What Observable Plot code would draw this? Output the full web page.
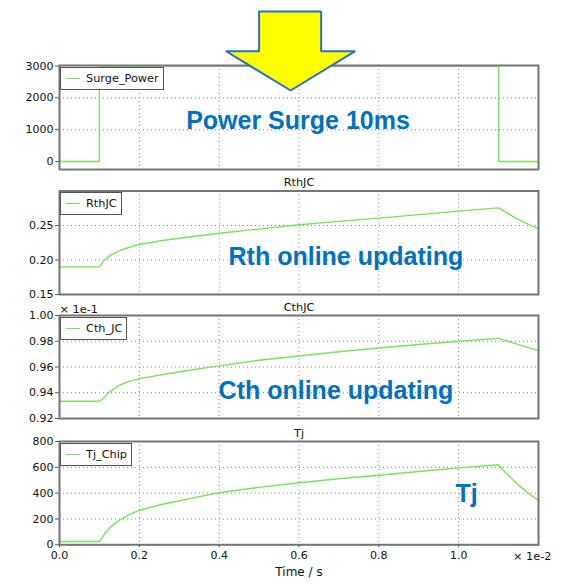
<!DOCTYPE html>
<html><head><meta charset="utf-8">
<script src="https://cdn.jsdelivr.net/npm/d3@7"></script>
<script src="https://cdn.jsdelivr.net/npm/@observablehq/plot@0.6"></script>
<style>
body{margin:0;background:#fff;}
#wrap{position:relative;width:577px;height:588px;overflow:hidden;font-family:"DejaVu Sans",sans-serif;}
.panel{position:absolute;left:0;}
.legend{position:absolute;left:60px;height:23px;border:1.5px solid #555;background:#fff;display:flex;align-items:center;padding:0 4px 0 5px;font:11.3px "DejaVu Sans",sans-serif;color:#111;box-sizing:border-box;}
.legend .sw{width:14px;height:0;border-top:1.4px solid #7ede5e;margin-right:6px;}
</style></head><body><div id="wrap"></div>
<script>
// ---- data (time in units of 1e-2 s) ----
const powerTime  = [0, 0.1, 1.1, 1.2];
const powerValue = [0, 3000, 0, 0];

const rthTime  = [0, 0.1, 0.11, 0.125, 0.15, 0.175, 0.2, 0.25, 0.3, 0.4, 0.5, 0.6, 0.7, 0.8, 0.9, 1.0, 1.1, 1.125, 1.15, 1.175, 1.2];
const rthValue = [0.19, 0.19, 0.1985, 0.206, 0.2135, 0.2185, 0.2225, 0.2275, 0.2315, 0.2388, 0.2448, 0.251, 0.256, 0.2607, 0.2658, 0.2709, 0.2755, 0.2668, 0.2585, 0.2515, 0.2452];

const cthTime  = [0, 0.1, 0.11, 0.125, 0.15, 0.175, 0.2, 0.3, 0.4, 0.5, 0.6, 0.7, 0.8, 0.9, 1.0, 1.1, 1.15, 1.2];
const cthValue = [0.9334, 0.9334, 0.9355, 0.9405, 0.9458, 0.949, 0.951, 0.9563, 0.9609, 0.9652, 0.9685, 0.9718, 0.9748, 0.9775, 0.98, 0.9822, 0.9774, 0.9727];

const tjTime  = [0, 0.1, 0.1125, 0.125, 0.1375, 0.15, 0.175, 0.2, 0.25, 0.3, 0.35, 0.4, 0.5, 0.6, 0.7, 0.8, 0.9, 1.0, 1.1, 1.11, 1.125, 1.15, 1.175, 1.2];
const tjValue = [25, 25, 80, 128, 162, 190, 235, 266, 308, 341, 373, 403, 445, 480, 511, 539, 568, 596, 620, 583, 535, 462, 398, 343];

const xTicks = [0, 0.2, 0.4, 0.6, 0.8, 1.0];
const powerTicks = [0, 1000, 2000, 3000];
const rthTicks = [0.15, 0.20, 0.25];
const cthTicks = [0.92, 0.94, 0.96, 0.98, 1.00];
const tjTicks = [0, 200, 400, 600, 800];

const panelTitles = ["", "RthJC", "CthJC", "Tj"];
const legendNames = ["Surge_Power", "RthJC", "Cth_JC", "Tj_Chip"];
const noteText = ["Power Surge 10ms", "Rth online updating", "Cth online updating", "Tj"];
const noteX = [0.5975, 0.7175, 0.6925, 1.02];
const noteY = [1030, 0.1931, 0.9353, 331];

// decorative arrow, in panel-1 data coordinates
const arrowX = [0.5, 0.6555, 0.6555, 0.741, 0.579, 0.417, 0.5, 0.5];
const arrowY = [4713, 4713, 3465, 3465, 2231, 3465, 3465, 4713];

const GREEN = "#7ede5e";
const BLUE = "#0070c0";
const W = 577, ML = 59, MR = 39;

const wrap = document.getElementById("wrap");

function panel(i, cfg) {
  const idx = d3.range(cfg.times.length);
  const marks = [
    Plot.gridX(xTicks.slice(1), {stroke: "#808080", strokeOpacity: 1, strokeDasharray: "1,3"}),
    Plot.gridY(cfg.grid, {stroke: "#808080", strokeOpacity: 1, strokeDasharray: "1,3"}),
    Plot.axisY(cfg.ticks, {tickSize: 4, tickPadding: 2, tickFormat: cfg.fmt, label: null, fill: "#111", stroke: "#555"}),
    Plot.line(idx, {x: j => cfg.times[j], y: j => cfg.values[j], stroke: GREEN, strokeWidth: 1.4, curve: cfg.curve || "linear"}),
    Plot.frame({stroke: "#757575", strokeWidth: 2}),
    Plot.text([noteText[i]], {x: noteX[i], y: noteY[i], text: d => d, fill: BLUE, fontSize: 25, fontWeight: "bold", fontFamily: "Liberation Sans, Arial, sans-serif", textAnchor: "middle", lineAnchor: "bottom"})
  ];
  if (panelTitles[i]) marks.push(Plot.text([panelTitles[i]], {frameAnchor: "top", dy: cfg.titleDy, text: d => d, fontSize: 11.3, fill: "#111", lineAnchor: "middle"}));
  if (cfg.extra) marks.push(...cfg.extra);
  const chart = Plot.plot({
    width: W, height: cfg.height,
    marginLeft: ML, marginRight: MR, marginTop: cfg.mt, marginBottom: cfg.mb,
    x: {domain: [0, 1.2], axis: null},
    y: {domain: cfg.domain, axis: null},
    style: {fontFamily: "DejaVu Sans, sans-serif", fontSize: "11px", color: "#111", background: "transparent", overflow: "visible"},
    marks
  });
  chart.classList.add("panel");
  chart.style.top = cfg.top + "px";
  wrap.appendChild(chart);
  const lg = document.createElement("div");
  lg.className = "legend";
  lg.style.top = (cfg.top + cfg.mt + 1.5) + "px";
  lg.innerHTML = `<span class="sw"></span><span>${legendNames[i]}</span>`;
  wrap.appendChild(lg);
}

panel(0, {top: 0, height: 173, mt: 65, mb: 4, domain: [-251, 3016], ticks: powerTicks, grid: [1000, 2000], fmt: d3.format("d"),
  times: powerTime, values: powerValue, curve: "step-after",
  extra: [Plot.line(d3.range(arrowX.length), {x: j => arrowX[j], y: j => arrowY[j], fill: "#ffff00", stroke: "#2a72c2", strokeWidth: 2, strokeLinejoin: "miter"})]
});

panel(1, {top: 173, height: 125, mt: 17.5, mb: 4, domain: [0.15, 0.3], ticks: rthTicks, grid: [0.20, 0.25], fmt: d3.format(".2f"),
  times: rthTime, values: rthValue, titleDy: -8.5});

panel(2, {top: 298, height: 124, mt: 17, mb: 4, domain: [0.92, 1.0], ticks: cthTicks, grid: [0.94, 0.96, 0.98], fmt: d3.format(".2f"),
  times: cthTime, values: cthValue, titleDy: -7.7,
  extra: [Plot.text(["× 1e-1"], {frameAnchor: "top-left", dy: -6, text: d => d, textAnchor: "start", lineAnchor: "middle", fontSize: 11.3, fill: "#111"})]});

panel(3, {top: 422, height: 166, mt: 19, mb: 43.7, domain: [0, 800], ticks: tjTicks, grid: [200, 400, 600], fmt: d3.format("d"),
  times: tjTime, values: tjValue, titleDy: -7.7,
  extra: [
    Plot.axisX(xTicks, {tickSize: 3, tickPadding: 3, tickFormat: d3.format(".1f"), label: null, fill: "#111", stroke: "#555"}),
    Plot.text(["× 1e-2"], {frameAnchor: "bottom-right", dx: 13, dy: 12, text: d => d, textAnchor: "end", lineAnchor: "middle", fontSize: 11.3, fill: "#111"}),
    Plot.text(["Time / s"], {frameAnchor: "bottom", dy: 27.5, text: d => d, textAnchor: "middle", lineAnchor: "middle", fontSize: 12, fill: "#111"})
  ]});
</script>
</body></html>
